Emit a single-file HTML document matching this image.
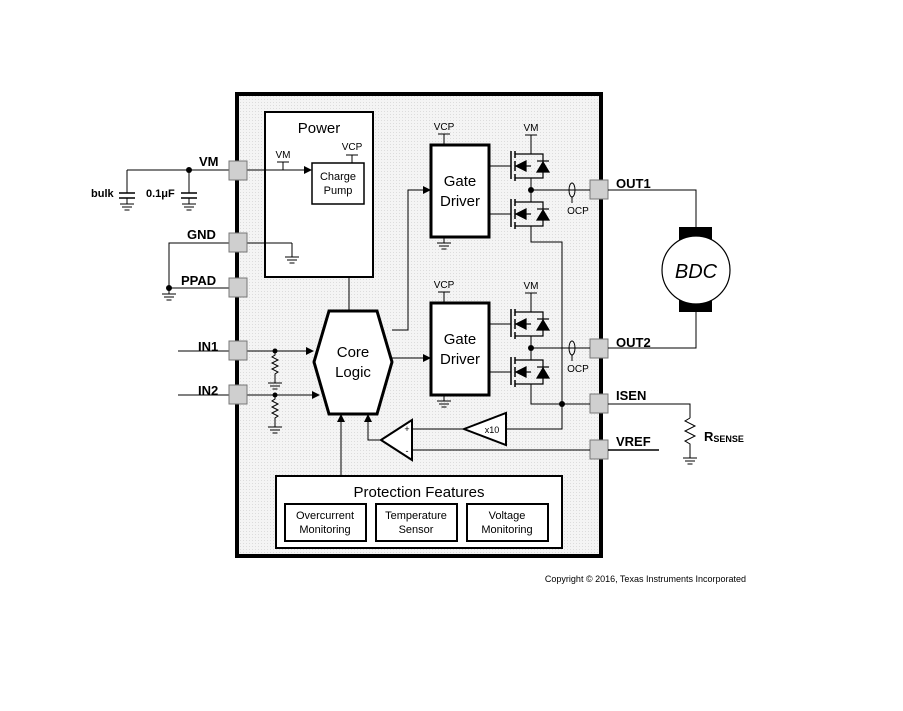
<!DOCTYPE html>
<html><head><meta charset="utf-8"><style>
html,body{margin:0;padding:0;background:#fff}
svg{display:block}
text{font-family:"Liberation Sans",Arial,sans-serif;fill:#000}
</style></head><body>
<svg width="903" height="711" viewBox="0 0 903 711" xmlns="http://www.w3.org/2000/svg">
<defs>
<pattern id="dots" width="3" height="3" patternUnits="userSpaceOnUse">
<rect width="3" height="3" fill="#f4f4f4"/><rect width="1" height="1" fill="#dcdcdc"/>
</pattern>
<g id="gnd"><line x1="0" y1="0" x2="0" y2="6" stroke="#000"/><line x1="-7" y1="6" x2="7" y2="6" stroke="#000"/><line x1="-5" y1="9" x2="5" y2="9" stroke="#000"/><line x1="-2.5" y1="12" x2="2.5" y2="12" stroke="#000"/></g>
<g id="fet" stroke="#000" fill="none" stroke-width="1.2">
<line x1="511" y1="151" x2="511" y2="179" stroke-width="1.5"/>
<line x1="515" y1="151" x2="515" y2="158" stroke-width="1.5"/>
<line x1="515" y1="161" x2="515" y2="171" stroke-width="1.5"/>
<line x1="515" y1="174" x2="515" y2="181" stroke-width="1.5"/>
<polyline points="515,154 543,154 543,178 515,178"/>
<line x1="515" y1="166" x2="531" y2="166"/>
<polygon points="516,166 526,161 526,171" fill="#000"/>
<polygon points="537,172 549,172 543,162" fill="#000"/>
<line x1="537" y1="161" x2="549" y2="161"/>
</g>
<g id="res" stroke="#000" fill="none"><polyline points="0,0 0,4 -3,6 3,9 -3,12 3,15 -3,18 3,21 0,23 0,26"/></g>
</defs>
<rect x="0" y="0" width="903" height="711" fill="#fff"/>
<!-- main IC -->
<rect x="237" y="94" width="364" height="462" fill="url(#dots)" stroke="#000" stroke-width="4"/>
<!-- Power block -->
<rect x="265" y="112" width="108" height="165" fill="#fff" stroke="#000" stroke-width="2"/>
<text x="319" y="133" font-size="15" text-anchor="middle">Power</text>
<rect x="312" y="163" width="52" height="41" fill="#fff" stroke="#000" stroke-width="1.5"/>
<text x="338" y="180" font-size="11" text-anchor="middle">Charge</text>
<text x="338" y="194" font-size="11" text-anchor="middle">Pump</text>
<text x="283" y="158" font-size="10" text-anchor="middle">VM</text>
<line x1="277" y1="162" x2="289" y2="162" stroke="#000"/><line x1="283" y1="162" x2="283" y2="170" stroke="#000"/>
<text x="352" y="150" font-size="10" text-anchor="middle">VCP</text>
<line x1="346" y1="155" x2="358" y2="155" stroke="#000"/><line x1="352" y1="155" x2="352" y2="163" stroke="#000"/>
<line x1="247" y1="170" x2="306" y2="170" stroke="#000"/><polygon points="312,170 304,166 304,174" fill="#000"/>
<line x1="247" y1="243" x2="292" y2="243" stroke="#000"/><use href="#gnd" x="292" y="251"/><line x1="292" y1="243" x2="292" y2="251" stroke="#000"/>
<line x1="349" y1="277" x2="349" y2="311" stroke="#000"/>
<!-- left external -->
<line x1="127" y1="170" x2="229" y2="170" stroke="#000"/>
<circle cx="189" cy="170" r="3" fill="#000"/>
<line x1="127" y1="170" x2="127" y2="193" stroke="#000"/><line x1="119" y1="193" x2="135" y2="193" stroke="#000" stroke-width="1.5"/><line x1="119" y1="198" x2="135" y2="198" stroke="#000" stroke-width="1.5"/><use href="#gnd" x="127" y="198"/>
<line x1="189" y1="170" x2="189" y2="193" stroke="#000"/><line x1="181" y1="193" x2="197" y2="193" stroke="#000" stroke-width="1.5"/><line x1="181" y1="198" x2="197" y2="198" stroke="#000" stroke-width="1.5"/><use href="#gnd" x="189" y="198"/>
<text x="91" y="197" font-size="11" font-weight="bold">bulk</text>
<text x="146" y="197" font-size="11" font-weight="bold">0.1μF</text>
<text x="199" y="166" font-size="13" font-weight="bold">VM</text>
<text x="187" y="239" font-size="13" font-weight="bold">GND</text>
<text x="181" y="285" font-size="13" font-weight="bold">PPAD</text>
<polyline points="229,243 169,243 169,288 229,288" fill="none" stroke="#000"/>
<circle cx="169" cy="288" r="3" fill="#000"/><use href="#gnd" x="169" y="288"/>
<text x="198" y="351" font-size="13" font-weight="bold">IN1</text>
<text x="198" y="395" font-size="13" font-weight="bold">IN2</text>
<line x1="178" y1="351" x2="229" y2="351" stroke="#000"/>
<line x1="178" y1="395" x2="229" y2="395" stroke="#000"/>
<line x1="247" y1="351" x2="308" y2="351" stroke="#000"/><polygon points="314,351 306,347 306,355" fill="#000"/>
<line x1="247" y1="395" x2="314" y2="395" stroke="#000"/><polygon points="320,395 312,391 312,399" fill="#000"/>
<circle cx="275" cy="351" r="2.5" fill="#000"/><use href="#res" x="275" y="351"/><use href="#gnd" x="275" y="377"/>
<circle cx="275" cy="395" r="2.5" fill="#000"/><use href="#res" x="275" y="395"/><use href="#gnd" x="275" y="421"/>
<!-- pads -->
<g fill="#cfcfcf" stroke="#777" stroke-width="1">
<rect x="229" y="161" width="18" height="19"/><rect x="229" y="233" width="18" height="19"/><rect x="229" y="278" width="18" height="19"/>
<rect x="229" y="341" width="18" height="19"/><rect x="229" y="385" width="18" height="19"/>
<rect x="590" y="180" width="18" height="19"/><rect x="590" y="339" width="18" height="19"/><rect x="590" y="394" width="18" height="19"/><rect x="590" y="440" width="18" height="19"/>
</g>
<!-- core logic -->
<polygon points="329,311 377,311 392,362 377,414 329,414 314,362" fill="#fff" stroke="#000" stroke-width="3"/>
<text x="353" y="357" font-size="15" text-anchor="middle">Core</text>
<text x="353" y="377" font-size="15" text-anchor="middle">Logic</text>
<!-- gate drivers -->
<rect x="431" y="145" width="58" height="92" fill="#fff" stroke="#000" stroke-width="3"/>
<text x="460" y="186" font-size="15" text-anchor="middle">Gate</text><text x="460" y="206" font-size="15" text-anchor="middle">Driver</text>
<rect x="431" y="303" width="58" height="92" fill="#fff" stroke="#000" stroke-width="3"/>
<text x="460" y="344" font-size="15" text-anchor="middle">Gate</text><text x="460" y="364" font-size="15" text-anchor="middle">Driver</text>
<text x="444" y="130" font-size="10" text-anchor="middle">VCP</text><line x1="438" y1="134" x2="450" y2="134" stroke="#000"/><line x1="444" y1="134" x2="444" y2="145" stroke="#000"/>
<text x="444" y="288" font-size="10" text-anchor="middle">VCP</text><line x1="438" y1="292" x2="450" y2="292" stroke="#000"/><line x1="444" y1="292" x2="444" y2="303" stroke="#000"/>
<use href="#gnd" x="444" y="237"/><use href="#gnd" x="444" y="395"/>
<polyline points="392,330 408,330 408,190 425,190" fill="none" stroke="#000"/><polygon points="431,190 423,186 423,194" fill="#000"/>
<line x1="392" y1="358" x2="425" y2="358" stroke="#000"/><polygon points="431,358 423,354 423,362" fill="#000"/>
<!-- FETs -->
<line x1="489" y1="166" x2="511" y2="166" stroke="#000"/><line x1="489" y1="214" x2="511" y2="214" stroke="#000"/>
<line x1="489" y1="324" x2="511" y2="324" stroke="#000"/><line x1="489" y1="372" x2="511" y2="372" stroke="#000"/>
<use href="#fet"/><use href="#fet" y="48"/><use href="#fet" y="158"/><use href="#fet" y="206"/>
<text x="531" y="131" font-size="10" text-anchor="middle">VM</text><line x1="525" y1="135" x2="537" y2="135" stroke="#000"/><line x1="531" y1="135" x2="531" y2="154" stroke="#000"/>
<text x="531" y="289" font-size="10" text-anchor="middle">VM</text><line x1="525" y1="293" x2="537" y2="293" stroke="#000"/><line x1="531" y1="293" x2="531" y2="312" stroke="#000"/>
<line x1="531" y1="178" x2="531" y2="202" stroke="#000"/><line x1="531" y1="336" x2="531" y2="360" stroke="#000"/>
<circle cx="531" cy="190" r="3" fill="#000"/><circle cx="531" cy="348" r="3" fill="#000"/>
<line x1="531" y1="190" x2="590" y2="190" stroke="#000"/><line x1="531" y1="348" x2="590" y2="348" stroke="#000"/>
<polyline points="531,226 531,242 562,242 562,404" fill="none" stroke="#000"/>
<polyline points="531,384 531,404 590,404" fill="none" stroke="#000"/>
<circle cx="562" cy="404" r="3" fill="#000"/>
<ellipse cx="572" cy="190" rx="3" ry="7" fill="none" stroke="#000"/><line x1="572" y1="197" x2="572" y2="203" stroke="#000"/>
<text x="578" y="214" font-size="10" text-anchor="middle">OCP</text>
<ellipse cx="572" cy="348" rx="3" ry="7" fill="none" stroke="#000"/><line x1="572" y1="355" x2="572" y2="361" stroke="#000"/>
<text x="578" y="372" font-size="10" text-anchor="middle">OCP</text>
<!-- amps -->
<polyline points="562,404 562,429 506,429" fill="none" stroke="#000"/>
<polygon points="464,429 506,413 506,445" fill="#fff" stroke="#000" stroke-width="2"/>
<text x="492" y="433" font-size="9" text-anchor="middle">x10</text>
<line x1="412" y1="429" x2="464" y2="429" stroke="#000"/>
<polygon points="381,440 412,420 412,460" fill="#fff" stroke="#000" stroke-width="2"/>
<text x="407" y="432" font-size="9" text-anchor="middle">+</text><text x="407" y="454" font-size="9" text-anchor="middle">-</text>
<line x1="412" y1="450" x2="590" y2="450" stroke="#000"/>
<polyline points="381,440 368,440 368,420" fill="none" stroke="#000"/><polygon points="368,414 364,422 372,422" fill="#000"/>
<line x1="341" y1="475" x2="341" y2="420" stroke="#000"/><polygon points="341,414 337,422 345,422" fill="#000"/>
<!-- protection -->
<rect x="276" y="476" width="286" height="72" fill="#fff" stroke="#000" stroke-width="2"/>
<text x="419" y="497" font-size="15" text-anchor="middle">Protection Features</text>
<rect x="285" y="504" width="81" height="37" fill="#fff" stroke="#000" stroke-width="2"/>
<text x="325" y="519" font-size="11" text-anchor="middle">Overcurrent</text><text x="325" y="533" font-size="11" text-anchor="middle">Monitoring</text>
<rect x="376" y="504" width="81" height="37" fill="#fff" stroke="#000" stroke-width="2"/>
<text x="416" y="519" font-size="11" text-anchor="middle">Temperature</text><text x="416" y="533" font-size="11" text-anchor="middle">Sensor</text>
<rect x="467" y="504" width="81" height="37" fill="#fff" stroke="#000" stroke-width="2"/>
<text x="507" y="519" font-size="11" text-anchor="middle">Voltage</text><text x="507" y="533" font-size="11" text-anchor="middle">Monitoring</text>
<!-- right external -->
<text x="616" y="188" font-size="13" font-weight="bold">OUT1</text>
<text x="616" y="347" font-size="13" font-weight="bold">OUT2</text>
<text x="616" y="400" font-size="13" font-weight="bold">ISEN</text>
<text x="616" y="446" font-size="13" font-weight="bold">VREF</text>
<polyline points="608,190 696,190 696,227" fill="none" stroke="#000"/>
<polyline points="608,348 696,348 696,312" fill="none" stroke="#000"/>
<rect x="679" y="227" width="33" height="17" fill="#000"/><rect x="679" y="296" width="33" height="16" fill="#000"/>
<circle cx="696" cy="270" r="34" fill="#fff" stroke="#000" stroke-width="1.2"/>
<text x="696" y="278" font-size="20" font-style="italic" text-anchor="middle">BDC</text>
<line x1="608" y1="450" x2="659" y2="450" stroke="#000" stroke-width="1.5"/>
<polyline points="608,404 690,404 690,418" fill="none" stroke="#000"/>
<polyline points="690,418 685,421 695,426 685,431 695,436 685,441 690,444 690,458" fill="none" stroke="#000"/>
<use href="#gnd" x="690" y="452"/>
<text x="704" y="441" font-size="13" font-weight="bold">R<tspan font-size="9" dy="1">SENSE</tspan></text>
<text x="746" y="582" font-size="9" text-anchor="end">Copyright © 2016, Texas Instruments Incorporated</text>
</svg>
</body></html>
